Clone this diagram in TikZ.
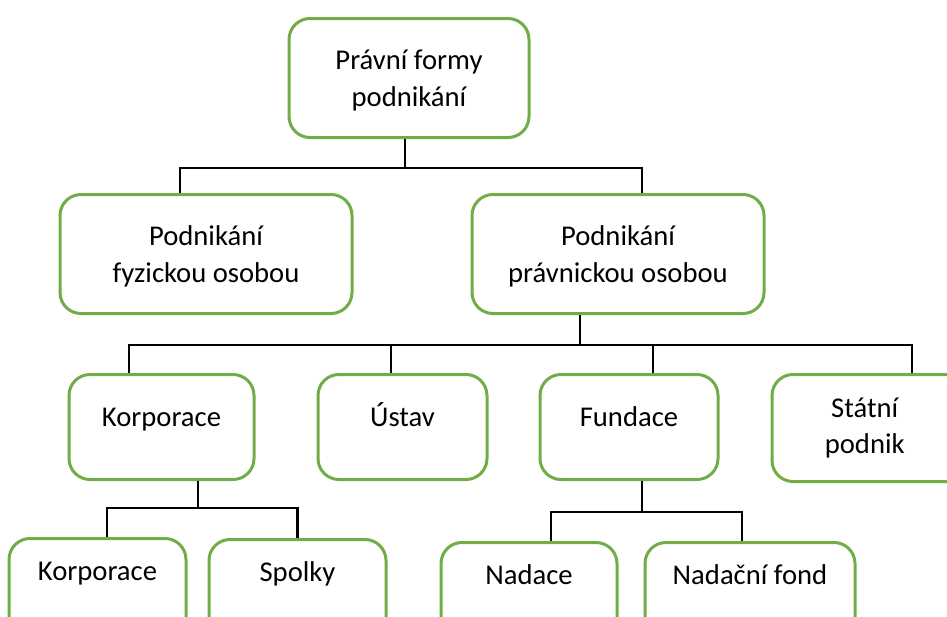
\documentclass[tikz,border=0pt]{standalone}
\usepackage{fontspec}
\setmainfont{Carlito}
\definecolor{boxgreen}{HTML}{70AD47}

\begin{document}
\begin{tikzpicture}[
  box/.style={draw=boxgreen, line width=0.6mm, rounded corners=0.42cm, anchor=north,
    align=center, text=black, font=\fontsize{16.3}{20.9}\selectfont},
  bigbox/.style={box, minimum height=2.38cm, text depth=0pt},
  midbox/.style={box, inner ysep=0pt, text height=1.04cm, text depth=1.06cm},
  lowbox/.style={box, inner ysep=0pt, text height=0.84cm, text depth=1.26cm},
  conn/.style={line width=0.5mm, black}
]

\clip (0,0) rectangle (18.94,-12.32);

\coordinate (T) at (8.18,-0.34);
\coordinate (L) at (4.12,-3.86);
\coordinate (R) at (12.36,-3.86);
\coordinate (K) at (3.23,-7.46);
\coordinate (U) at (8.05,-7.46);
\coordinate (F) at (12.58,-7.46);
\coordinate (S) at (17.42,-7.46);
\coordinate (K1) at (1.95,-10.74);
\coordinate (K2) at (5.95,-10.76);
\coordinate (F1) at (10.58,-10.82);
\coordinate (F2) at (15.0,-10.82);

\node[bigbox, minimum width=4.8cm] (forms) at (T) {Právní formy\\podnikání};
\node[bigbox, minimum width=5.84cm] (natural) at (L) {Podnikání\\fyzickou osobou};
\node[bigbox, minimum width=5.84cm] (legal) at (R) {Podnikání\\právnickou osobou};

\node[midbox, minimum width=3.7cm] (corp) at (K) {Korporace};
\node[midbox, minimum width=3.38cm] (inst) at (U) {Ústav};
\node[midbox, minimum width=3.56cm] (fund) at (F) {Fundace};
\node[box, minimum width=3.96cm, minimum height=2.14cm] (state) at (S) {\hspace*{-0.25cm}Státní\\\hspace*{-0.25cm}podnik};

\node[lowbox, minimum width=3.54cm] (corpb) at (K1) {Korporace};
\node[lowbox, minimum width=3.54cm] (club) at (K2) {Spolky};
\node[lowbox, minimum width=3.52cm] (found) at (F1) {Nadace};
\node[lowbox, minimum width=4.2cm] (fundb) at (F2) {Nadační fond};

% first level
\path ([xshift=-0.08cm]forms.south) ++(0,-0.58) coordinate (b1);
\draw[conn] ([xshift=-0.08cm]forms.south) -- (b1) -| ([xshift=-0.52cm]natural.north);
\draw[conn] (b1) -| ([xshift=0.48cm]legal.north);

% second level
\path ([xshift=-0.76cm]legal.south) ++(0,-0.6) coordinate (b2);
\draw[conn] ([xshift=-0.76cm]legal.south) -- (b2);
\draw[conn] (b2) -| ([xshift=-0.65cm]corp.north);
\draw[conn] (b2) -| ([xshift=-0.23cm]inst.north);
\draw[conn] (b2) -| ([xshift=0.48cm]fund.north);
\draw[conn] (b2) -| ([xshift=0.82cm]state.north);

% third level
\path ([xshift=0.73cm]corp.south) ++(0,-0.54) coordinate (b3);
\draw[conn] ([xshift=0.73cm]corp.south) -- (b3) -| ([xshift=0.19cm]corpb.north);
\draw[conn] (b3) -| (club.north);

\path ([xshift=0.26cm]fund.south) ++(0,-0.62) coordinate (b4);
\draw[conn] ([xshift=0.26cm]fund.south) -- (b4) -| ([xshift=0.44cm]found.north);
\draw[conn] (b4) -| ([xshift=-0.16cm]fundb.north);

\end{tikzpicture}
\end{document}
